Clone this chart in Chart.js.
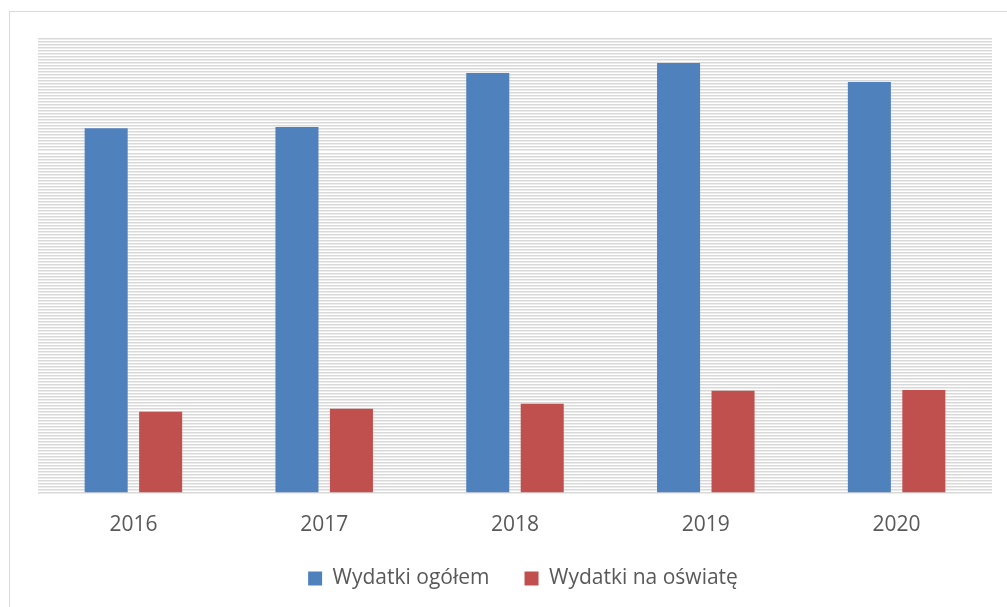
<!DOCTYPE html>
<html>
<head>
<meta charset="utf-8">
<script src="https://cdn.jsdelivr.net/npm/chart.js@4"></script>
<style>
  html, body { margin: 0; padding: 0; background: #fff; width: 1007px; height: 607px; overflow: hidden; }
  #frame { position: absolute; left: 9px; top: 11px; width: 1010px; height: 620px; border: 1.5px solid #d9d9d9; box-sizing: border-box; }
  #wrap { position: absolute; left: 0; top: 0; width: 1007px; height: 607px; }
</style>
</head>
<body>
<div id="frame"></div>
<div id="wrap"><canvas id="c" width="1007" height="607"></canvas></div>
<script>
const categories = ['2016', '2017', '2018', '2019', '2020'];
const seriesNames = ['Wydatki ogółem', 'Wydatki na oświatę'];
const wydatkiOgolem = [121.3, 121.7, 139.7, 143.0, 136.7];
const wydatkiOswiata = [27.0, 28.0, 29.7, 34.0, 34.3];
const yMax = 151;
const yStep = 1;

const FONT = "'Open Sans', 'DejaVu Sans', sans-serif";

const legendShift = {
  id: 'legendShift',
  afterLayout(chart) {
    if (chart.legend) { chart.legend.left += 8; chart.legend.right += 8; }
  }
};

new Chart(document.getElementById('c'), {
  type: 'bar',
  data: {
    labels: categories,
    datasets: [
      { label: seriesNames[0], data: wydatkiOgolem, backgroundColor: '#4f81bd', borderColor: '#4f81bd', borderWidth: 0 },
      { label: seriesNames[1], data: wydatkiOswiata, backgroundColor: '#c0504d', borderColor: '#c0504d', borderWidth: 0 }
    ]
  },
  plugins: [legendShift],
  options: {
    responsive: false,
    animation: false,
    devicePixelRatio: 1,
    layout: { padding: { left: 38, right: 15, top: 39, bottom: 8 } },
    datasets: { bar: { categoryPercentage: 0.571, barPercentage: 0.79 } },
    plugins: {
      tooltip: { enabled: false },
      legend: {
        position: 'bottom',
        labels: {
          color: '#595959',
          font: { family: FONT, size: 21 },
          boxWidth: 14, boxHeight: 14,
          padding: 35
        }
      }
    },
    scales: {
      x: {
        grid: { display: false, drawTicks: true, tickLength: 24 },
        border: { display: false },
        ticks: { color: '#595959', font: { family: FONT, size: 21, lineHeight: 0.476 }, padding: 3 }
      },
      y: {
        min: 0, max: yMax,
        border: { display: false },
        grid: { color: '#d9d9d9', lineWidth: 1.5, drawTicks: false },
        ticks: { display: false, stepSize: yStep, autoSkip: false }
      }
    }
  }
});
</script>
</body>
</html>
